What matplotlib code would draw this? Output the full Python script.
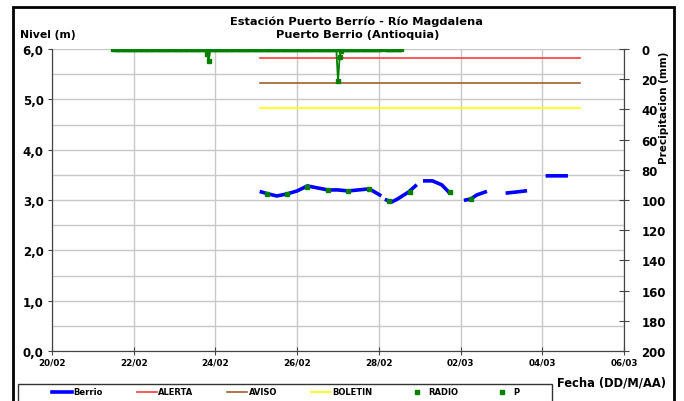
import pandas as pd
import matplotlib
matplotlib.use("Agg")
import matplotlib.pyplot as plt
import matplotlib.dates as mdates
from matplotlib.ticker import FuncFormatter, MultipleLocator
from matplotlib.patches import Rectangle
from matplotlib.lines import Line2D
import numpy as np

plt.rcParams['font.family'] = ['DejaVu Sans']
plt.rcParams['font.weight'] = 'bold'

# Nivel del rio (Berrio), NaN = sin dato
berrio_t = ['2023-02-25 03:00', '2023-02-25 06:00', '2023-02-25 12:00', '2023-02-25 18:00',
            '2023-02-26 00:00', '2023-02-26 06:00', '2023-02-26 12:00', '2023-02-26 18:00',
            '2023-02-27 00:00', '2023-02-27 06:00', '2023-02-27 12:00', '2023-02-27 18:00',
            '2023-02-27 20:30', '2023-02-28 00:30', '2023-02-28 02:30',
            '2023-02-28 04:30', '2023-02-28 07:30', '2023-02-28 11:00', '2023-02-28 17:30',
            '2023-02-28 21:30', '2023-03-01 00:00',
            '2023-03-01 03:00', '2023-03-01 07:30', '2023-03-01 13:00', '2023-03-01 17:00',
            '2023-03-01 22:00',
            '2023-03-02 03:00', '2023-03-02 06:00', '2023-03-02 09:30', '2023-03-02 14:30',
            '2023-03-02 20:00',
            '2023-03-03 03:30', '2023-03-03 09:00', '2023-03-03 14:00',
            '2023-03-03 20:00',
            '2023-03-04 03:00', '2023-03-04 08:30', '2023-03-04 14:00']
berrio_h = [3.16, 3.13, 3.08, 3.12,
            3.18, 3.28, 3.24, 3.20,
            3.20, 3.18, 3.20, 3.22,
            3.18, 3.10, np.nan,
            3.00, 2.96, 3.02, 3.16,
            3.28, np.nan,
            3.38, 3.38, 3.30, 3.16,
            np.nan,
            3.00, 3.02, 3.10, 3.16,
            np.nan,
            3.14, 3.16, 3.18,
            np.nan,
            3.48, 3.48, 3.48]

# Lecturas de radio
radio_t = ['2023-02-25 06:00', '2023-02-25 18:00', '2023-02-26 06:00', '2023-02-26 18:00',
           '2023-02-27 06:00', '2023-02-27 18:00', '2023-02-28 06:00', '2023-02-28 18:00',
           '2023-03-01 18:00', '2023-03-02 06:00']
radio_h = [3.12, 3.12, 3.26, 3.20, 3.18, 3.22, 2.98, 3.16, 3.16, 3.02]

# Umbrales
umbral_t = ['2023-02-25 02:00', '2023-03-04 22:00']
alerta = 5.82
aviso = 5.32
boletin = 4.82

# Precipitacion horaria (mm)
p_inicio = '2023-02-21 12:00'
p_fin = '2023-02-28 13:00'
p_eventos = {'2023-02-23 19:00': 3, '2023-02-23 20:00': 8,
             '2023-02-27 00:00': 21, '2023-02-27 01:00': 5, '2023-02-27 02:00': 1}
p_vacios = ['2023-02-28 02:00', '2023-02-28 03:00']

p = pd.Series(0.0, index=pd.date_range(p_inicio, p_fin, freq='h'))
for k, v in p_eventos.items():
    p[pd.Timestamp(k)] = v
for k in p_vacios:
    p[pd.Timestamp(k)] = np.nan

fig = plt.figure(figsize=(6.84, 4.02), dpi=100)
ax = fig.add_axes([52/684, 1-352/402, (624-52)/684, (352-50)/402])
ax2 = ax.twinx()

ax.plot(pd.to_datetime(berrio_t), berrio_h, color='#0000ff', lw=2.6, label='Berrio', zorder=3)
ut = pd.to_datetime(umbral_t)
ax.plot(ut, [alerta]*2, color='#ff3b3b', lw=1.2, label='ALERTA')
ax.plot(ut, [aviso]*2, color='#a0602d', lw=1.2, label='AVISO')
ax.plot(ut, [boletin]*2, color='#ffff00', lw=1.2, label='BOLETIN')
ax.plot(pd.to_datetime(radio_t), radio_h, ls='none', marker='s', ms=2.2,
        color='#008000', label='RADIO', zorder=4)

ax2.plot(p.index, p.values, color='#008000', lw=1.3, marker='s', ms=2.7, label='P')

xt = pd.date_range('2023-02-20', '2023-03-06', freq='2D')
ax.set_xlim(xt[0], xt[-1])
ax.set_xticks(xt)
ax.xaxis.set_major_formatter(mdates.DateFormatter('%d/%m'))
ax.set_ylim(0, 6)
ax.yaxis.set_major_locator(MultipleLocator(1))
ax.yaxis.set_minor_locator(MultipleLocator(0.5))
ax.yaxis.set_major_formatter(FuncFormatter(lambda v, pos: f'{v:.1f}'.replace('.', ',')))
ax.grid(True, which='both', color='#c8c8c8', lw=1)
ax.set_axisbelow(True)
ax.tick_params(axis='y', which='minor', length=0)
ax.tick_params(axis='y', labelsize=8.5, direction='out', length=3, color='#444444', pad=3)
ax.tick_params(axis='x', labelsize=6.3, direction='inout', length=6, color='#444444', pad=2)

ax2.set_ylim(200, 0)
ax2.yaxis.set_major_locator(MultipleLocator(20))
ax2.tick_params(axis='y', labelsize=8.5, direction='inout', length=7, color='#444444', pad=9)
ax2.set_ylabel('Precipitacion (mm)', fontsize=7.5, fontweight='bold')
ax2.yaxis.set_label_coords(1.062, 0.81)

for a in (ax, ax2):
    a.spines['top'].set_visible(False)
    a.spines['left'].set_color('#444444')
    a.spines['bottom'].set_color('#444444')
    a.spines['right'].set_color('#444444')

fig.text(357/684, 1-22/402, 'Estación Puerto Berrío - Río Magdalena', ha='center', va='center',
         fontsize=8.2, fontweight='bold')
fig.text(358/684, 1-35/402, 'Puerto Berrio (Antioquia)', ha='center', va='center',
         fontsize=8.2, fontweight='bold')
fig.text(20/684, 1-35/402, 'Nivel (m)', ha='left', va='center', fontsize=7.8, fontweight='bold')
fig.text(666/684, 1-383/402, 'Fecha (DD/M/AA)', ha='right', va='center', fontsize=8.3,
         fontweight='bold')

# recuadro de la leyenda
fig.patches.append(Rectangle((18/684, -2/402), (552-18)/684, 19/402, transform=fig.transFigure,
                             facecolor='white', edgecolor='#333333', lw=1, zorder=5))
h1, l1 = ax.get_legend_handles_labels()
# en la leyenda P se muestra solo con su marcador
h_p = Line2D([], [], ls='none', marker='s', ms=2.2, color='#008000')
leg = fig.legend(h1 + [h_p], l1 + ['P'], loc='center left', ncol=6,
                 bbox_to_anchor=(52/684, 1-393/402), frameon=False,
                 fontsize=6.0, borderpad=0, borderaxespad=0, columnspacing=4.1,
                 handlelength=2.4, handletextpad=0.15)
leg.set_zorder(6)
for t in leg.get_texts():
    t.set_fontweight('bold')

fig.patches.append(Rectangle((13/684, -4/402), 661/684, 398/402, transform=fig.transFigure,
                             fill=False, edgecolor='black', lw=2, zorder=7))

fig.savefig('out.png', dpi=100)
